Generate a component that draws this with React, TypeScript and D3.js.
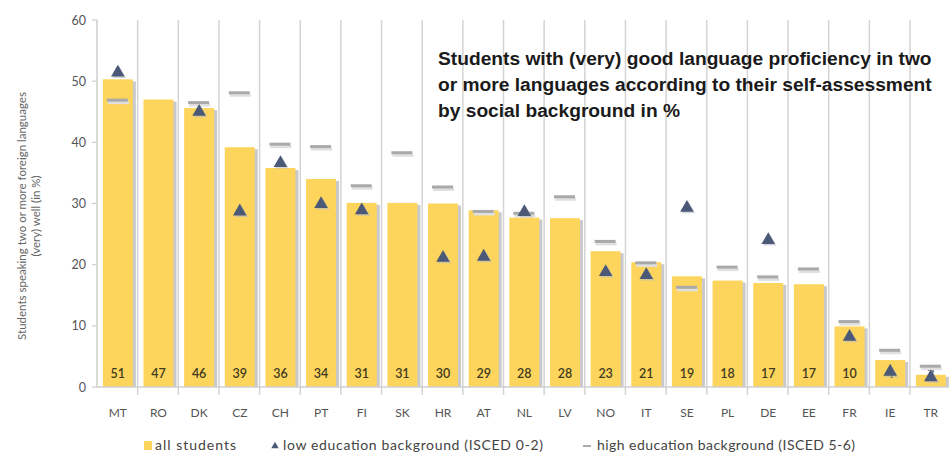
import React from "react";
import * as d3 from "d3";

const categories = ["MT","RO","DK","CZ","CH","PT","FI","SK","HR","AT","NL","LV","NO","IT","SE","PL","DE","EE","FR","IE","TR"];
const allStudents = [50.3,47.0,45.6,39.2,35.8,34.0,30.1,30.1,30.0,28.9,27.7,27.6,22.2,20.4,18.1,17.4,17.0,16.8,9.9,4.4,2.0];
const barLabels = ["51","47","46","39","36","34","31","31","30","29","28","28","23","21","19","18","17","17","10","4","2"];
const lowEdu: (number | null)[] = [51.4,null,45.0,28.7,36.6,29.9,28.9,null,21.1,21.3,28.6,null,18.8,18.3,29.3,null,24.0,null,8.2,2.5,1.6];
const highEdu: (number | null)[] = [46.9,null,46.5,48.1,39.7,39.3,32.9,38.3,32.7,28.7,28.4,31.1,23.8,20.3,16.3,19.6,18.0,19.3,10.7,6.0,3.4];
const yTicks = [0,10,20,30,40,50,60];
const titleLines = [
  "Students with (very) good language proficiency in two",
  "or more languages according to their self-assessment",
  "by social background in %",
];
const legendLabels = ["all students", "low education background (ISCED 0-2)", "high education background (ISCED 5-6)"];

export default function App() {
  const W = 949, H = 459;
  const x0 = 97, y0 = 387, yTop = 20;
  const step = 40.65;
  const x = d3.scaleBand<string>().domain(categories).range([x0, x0 + step * categories.length]).paddingInner(0).paddingOuter(0);
  const y = d3.scaleLinear().domain([0, 60]).range([y0, yTop]);
  const bw = 30;
  const font = "Lato, 'Open Sans', sans-serif";
  const tri = d3.symbol().type(d3.symbolTriangle).size(80)() as string;
  const cx = (c: string) => (x(c) as number) + x.bandwidth() / 2 + 0.5;

  return (
    <svg width={W} height={H} style={{ position: "absolute", left: 0, top: 0, background: "#fff" }}>
      {/* vertical gridlines */}
      {categories.map((c, i) => (
        <line key={"g" + i} x1={(x(c) as number) + step} x2={(x(c) as number) + step} y1={yTop} y2={y0 + 8} stroke="#d4d4d4" strokeWidth={1.5} />
      ))}
      {/* y axis */}
      <line x1={x0} x2={x0} y1={yTop} y2={y0} stroke="#cfcfcf" strokeWidth={1.5} />
      {yTicks.map((t) => (
        <g key={"yt" + t}>
          <line x1={x0 - 5} x2={x0} y1={y(t)} y2={y(t)} stroke="#cfcfcf" strokeWidth={1.2} />
          <text x={x0 - 11} y={y(t) + 4.5} fontSize={12.5} fill="#555" textAnchor="end" fontFamily={font}>{t}</text>
        </g>
      ))}
      {/* bars */}
      {categories.map((c, i) => (
        <g key={"b" + i}>
          <rect x={cx(c) - bw / 2 + 3} y={y(allStudents[i]) + 2} width={bw} height={y0 - y(allStudents[i]) - 2} fill="#c9c9cc" />
          <rect x={cx(c) - bw / 2} y={y(allStudents[i])} width={bw} height={y0 - y(allStudents[i])} fill="#fdd55c" />
          <text x={cx(c)} y={y0 - 9} fontSize={12.5} fill="#3f3a1e" textAnchor="middle" fontFamily={font} fontWeight={600}>{barLabels[i]}</text>
        </g>
      ))}
      {/* x axis */}
      <line x1={x0} x2={W} y1={y0} y2={y0} stroke="#cfcfcf" strokeWidth={1.5} />
      {categories.map((c, i) => (
        <text key={"xl" + i} x={cx(c)} y={417} fontSize={12} fill="#555" textAnchor="middle" fontFamily={font}>{c}</text>
      ))}
      {/* high education dashes */}
      {categories.map((c, i) => highEdu[i] == null ? null : (
        <g key={"h" + i}>
          <rect x={cx(c) - 10} y={y(highEdu[i] as number) + 1} width={21} height={3} fill="#e0e0e0" />
          <rect x={cx(c) - 11} y={y(highEdu[i] as number) - 1.5} width={21} height={3} fill="#a9a9ab" />
        </g>
      ))}
      {/* low education triangles */}
      {categories.map((c, i) => lowEdu[i] == null ? null : (
        <g key={"l" + i} transform={`translate(${cx(c)},${y(lowEdu[i] as number)})`}>
          <path d={tri} transform="translate(1.5,1.5)" fill="#b8bac4" opacity={0.6} />
          <path d={tri} fill="#4b5977" />
        </g>
      ))}
      {/* title */}
      {titleLines.map((t, i) => (
        <text key={"t" + i} x={438} y={65 + i * 26} fontSize={19.2} fontWeight="bold" fill="#1a1a1a" fontFamily="'Liberation Sans', Arial, sans-serif">{t}</text>
      ))}
      {/* y title */}
      <g transform="translate(26,216) rotate(-90)">
        <text x={0} y={0} fontSize={11.5} fill="#666" textAnchor="middle" fontFamily={font}>Students speaking two or more foreign languages</text>
        <text x={0} y={14} fontSize={11.5} fill="#666" textAnchor="middle" fontFamily={font}>(very) well (in %)</text>
      </g>
      {/* legend */}
      <rect x={144} y={441} width={8} height={9} fill="#fdd55c" />
      <text x={155} y={450} fontSize={14} fill="#444" fontFamily={font} textLength={81} lengthAdjust="spacing">{legendLabels[0]}</text>
      <path d={d3.symbol().type(d3.symbolTriangle).size(24)() as string} transform="translate(275,446)" fill="#4b5977" />
      <text x={283} y={450} fontSize={14} fill="#444" fontFamily={font} textLength={260} lengthAdjust="spacing">{legendLabels[1]}</text>
      <rect x={583} y={445} width={8} height={2} fill="#aaa" />
      <text x={597} y={450} fontSize={14} fill="#444" fontFamily={font} textLength={258} lengthAdjust="spacing">{legendLabels[2]}</text>
    </svg>
  );
}
